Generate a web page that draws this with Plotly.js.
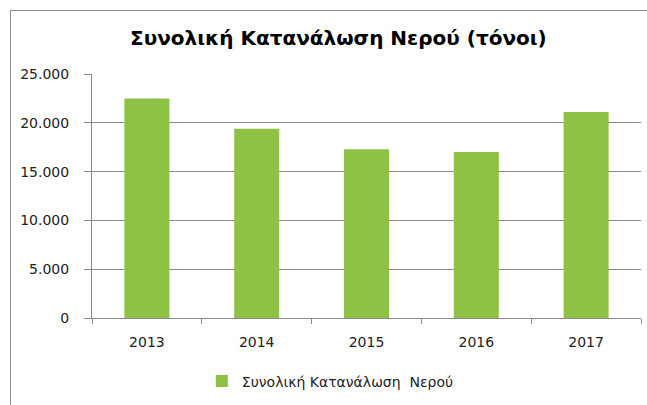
<!DOCTYPE html>
<html>
<head>
<meta charset="utf-8">
<script src="https://cdn.plot.ly/plotly-3.0.1.min.js"></script>
<style>
html,body{margin:0;padding:0;background:#fff;overflow:hidden;}
#wrap{position:relative;width:647px;height:405px;}
#frame{position:absolute;left:10px;top:10px;width:700px;height:500px;border:1px solid #8a8a8a;box-sizing:border-box;pointer-events:none;z-index:5;}
#chart{position:absolute;left:0;top:0;width:647px;height:405px;}
</style>
</head>
<body>
<div id="wrap"><div id="chart"></div><div id="frame"></div></div>
<script>
const years = ['2013', '2014', '2015', '2016', '2017'];
const consumption = [22500, 19400, 17300, 17000, 21100];
const seriesName = 'Συνολική Κατανάλωση  Νερού';
const chartTitle = 'Συνολική Κατανάλωση Νερού (τόνοι)';
const yTicks = [0, 5000, 10000, 15000, 20000, 25000];

const trace = {
  type: 'bar',
  x: years,
  y: consumption,
  name: seriesName,
  marker: {color: '#8dc244', line: {width: 0}},
  showlegend: true,
  hoverinfo: 'x+y'
};

const layout = {
  width: 647,
  height: 405,
  paper_bgcolor: '#ffffff',
  plot_bgcolor: '#ffffff',
  separators: ',.',
  margin: {l: 92, r: 6, t: 74, b: 87},
  font: {family: 'DejaVu Sans, Verdana, sans-serif', size: 14, color: '#333333'},
  title: {
    text: chartTitle,
    font: {family: 'DejaVu Sans, Verdana, sans-serif', size: 20, color: '#000000', weight: 'bold'},
    x: 0.523, xanchor: 'center', xref: 'container',
    y: 0.906, yanchor: 'middle', yref: 'container'
  },
  bargap: 0.59,
  xaxis: {
    type: 'category',
    showline: true, linecolor: '#8a8a8a', linewidth: 1,
    ticks: 'outside', tickson: 'boundaries', ticklen: 5, tickcolor: '#8a8a8a',
    showgrid: false,
    tickfont: {size: 14, color: '#222222'},
    ticklabelstandoff: 11
  },
  yaxis: {
    range: [0, 25000],
    tickvals: yTicks,
    tickformat: ',.0f',
    showline: true, linecolor: '#8a8a8a', linewidth: 1,
    ticks: 'outside', ticklen: 7, tickcolor: '#8a8a8a',
    showgrid: true, gridcolor: '#8a8a8a', gridwidth: 1,
    zeroline: false,
    tickfont: {size: 14, color: '#222222'},
    ticklabelstandoff: 12
  },
  showlegend: true,
  legend: {
    orientation: 'h',
    x: 0.2, xanchor: 'left',
    y: -0.26, yanchor: 'middle',
    font: {size: 14, color: '#222222'},
    itemwidth: 30,
    bgcolor: 'rgba(0,0,0,0)'
  }
};

Plotly.newPlot('chart', [trace], layout, {displayModeBar: false, staticPlot: true});
</script>
</body>
</html>
